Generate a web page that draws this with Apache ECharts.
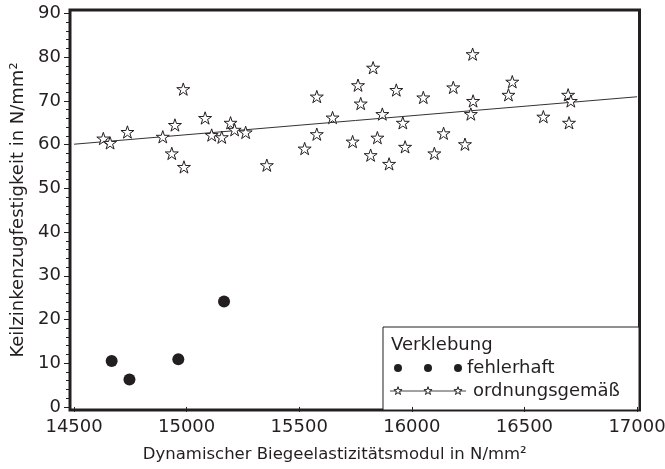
<!DOCTYPE html>
<html>
<head>
<meta charset="utf-8">
<script src="https://cdn.jsdelivr.net/npm/echarts@6/dist/echarts.min.js"></script>
<style>
  html, body { margin: 0; padding: 0; background: #fff; }
  #chart { width: 665px; height: 469px; }
</style>
</head>
<body>
<div id="chart"></div>
<script>
// tick labels
const xTicks = [14500, 15000, 15500, 16000, 16500, 17000]
const yTicks = [0, 10, 20, 30, 40, 50, 60, 70, 80, 90]
const yMinorTicks = [2, 4, 6, 8, 12, 14, 16, 18, 22, 24, 26, 28, 32, 34, 36, 38, 42, 44, 46, 48,
  52, 54, 56, 58, 62, 64, 66, 68, 72, 74, 76, 78, 82, 84, 86, 88]

// Verklebung fehlerhaft
const faultyX = [14667, 14746, 14963, 15166]
const faultyY = [10.5, 6.3, 10.9, 24.1]

// Verklebung ordnungsgemäß
const properX = [14630, 14660, 14737, 14894, 14948, 14934, 14988, 14985, 15082, 15111, 15156,
  15195, 15213, 15262, 15356, 15524, 15578, 15578, 15648, 15737, 15761, 15773, 15828, 15817,
  15847, 15869, 15899, 15931, 15960, 15970, 16051, 16100, 16141, 16184, 16270, 16236, 16272,
  16262, 16446, 16429, 16584, 16694, 16706, 16698]
const properY = [61.4, 60.4, 62.9, 61.8, 64.5, 58.0, 54.9, 72.7, 66.1, 62.2, 61.7,
  65.0, 63.4, 62.8, 55.3, 59.1, 62.4, 71.0, 66.2, 60.7, 73.6, 69.4, 77.6, 57.6,
  61.6, 67.0, 55.6, 72.5, 65.0, 59.5, 70.8, 58.0, 62.6, 73.1, 80.7, 60.1, 70.0,
  67.0, 74.4, 71.4, 66.4, 71.4, 70.0, 65.0]

// Regressionsgerade
const fitX = [14500, 17000]
const fitY = [60.1, 70.95]

const ink = '#231f20'
const font = 'DejaVu Sans'

// Eckpunkte eines fünfzackigen Sterns
function starPoints (cx, cy, r) {
  const pts = []
  for (let i = 0; i < 10; i++) {
    const rr = i % 2 === 0 ? r : r * 0.382
    const a = (-90 + i * 36) * Math.PI / 180
    pts.push([cx + rr * Math.cos(a), cy + rr * Math.sin(a)])
  }
  return pts
}
const star = 'path://' + starPoints(0, 0, 10)
  .map((p, i) => (i === 0 ? 'M' : 'L') + p[0].toFixed(3) + ' ' + p[1].toFixed(3))
  .join(' ') + ' Z'

const zip = (xs, ys) => xs.map((x, i) => [x, ys[i]])

const legendStar = cx => ({
  type: 'polygon',
  shape: { points: starPoints(cx, 391, 4.3) },
  style: { fill: '#fff', stroke: ink, lineWidth: 1 }
})

const chart = echarts.init(document.getElementById('chart'), null, { renderer: 'canvas' })

chart.setOption({
  animation: false,
  backgroundColor: '#fff',
  textStyle: { fontFamily: font, color: ink },
  grid: {
    left: 70,
    right: 25.5,
    top: 10,
    bottom: 59,
    show: true,
    borderColor: ink,
    borderWidth: 3,
    backgroundColor: 'transparent',
    outerBoundsMode: 'none'
  },
  xAxis: {
    type: 'value',
    min: 14482,
    max: 17011,
    name: 'Dynamischer Biegeelastizitätsmodul in N/mm²',
    nameLocation: 'middle',
    nameGap: 36,
    nameMoveOverlap: false,
    nameTextStyle: { fontFamily: font, fontSize: 16.5, color: ink, padding: [0, 40, 0, 0] },
    axisLine: { show: false },
    splitLine: { show: false },
    axisTick: { show: true, customValues: xTicks, length: 5, lineStyle: { color: ink, width: 1 } },
    axisLabel: {
      customValues: xTicks,
      margin: 8,
      fontFamily: font,
      fontSize: 18,
      color: ink,
      formatter: v => String(v)
    }
  },
  yAxis: [
    {
      type: 'value',
      min: -0.7,
      max: 90.8,
      name: 'Keilzinkenzugfestigkeit in N/mm²',
      nameLocation: 'middle',
      nameGap: 43,
      nameMoveOverlap: false,
      nameTextStyle: { fontFamily: font, fontSize: 18, color: ink },
      axisLine: { show: false },
      splitLine: { show: false },
      axisTick: { show: true, customValues: yTicks, length: 6, lineStyle: { color: ink, width: 1 } },
      axisLabel: { customValues: yTicks, margin: 9, fontFamily: font, fontSize: 18, color: ink }
    },
    {
      type: 'value',
      position: 'left',
      min: -0.7,
      max: 90.8,
      axisLine: { show: false },
      splitLine: { show: false },
      axisLabel: { show: false },
      axisTick: { show: true, customValues: yMinorTicks, length: 4, lineStyle: { color: ink, width: 1 } }
    }
  ],
  series: [
    {
      name: 'Regression',
      type: 'line',
      data: zip(fitX, fitY),
      showSymbol: false,
      symbol: 'none',
      lineStyle: { color: '#333', width: 1 },
      silent: true,
      z: 1
    },
    {
      name: 'fehlerhaft',
      type: 'scatter',
      data: zip(faultyX, faultyY),
      symbol: 'circle',
      symbolSize: 12,
      itemStyle: { color: ink, opacity: 1 },
      z: 3
    },
    {
      name: 'ordnungsgemäß',
      type: 'scatter',
      data: zip(properX, properY),
      symbol: star,
      symbolSize: 13,
      symbolKeepAspect: true,
      itemStyle: { color: '#fff', borderColor: ink, borderWidth: 1, opacity: 1 },
      z: 3
    }
  ],
  graphic: [
    {
      type: 'group',
      z: 100,
      children: [
        { type: 'rect', shape: { x: 383, y: 327, width: 256, height: 83 },
          style: { fill: '#fff', stroke: ink, lineWidth: 1 } },
        { type: 'text', x: 391, y: 345,
          style: { text: 'Verklebung', font: '18px "DejaVu Sans"', fill: ink, verticalAlign: 'middle' } },
        { type: 'circle', shape: { cx: 398, cy: 368, r: 4 }, style: { fill: ink } },
        { type: 'circle', shape: { cx: 428, cy: 368, r: 4 }, style: { fill: ink } },
        { type: 'circle', shape: { cx: 458, cy: 368, r: 4 }, style: { fill: ink } },
        { type: 'text', x: 467, y: 368,
          style: { text: 'fehlerhaft', font: '18px "DejaVu Sans"', fill: ink, verticalAlign: 'middle' } },
        { type: 'line', shape: { x1: 390, y1: 391, x2: 466, y2: 391 }, style: { stroke: '#444', lineWidth: 1 } },
        legendStar(398),
        legendStar(428),
        legendStar(458),
        { type: 'text', x: 473, y: 391,
          style: { text: 'ordnungsgemäß', font: '18px "DejaVu Sans"', fill: ink, verticalAlign: 'middle' } }
      ]
    }
  ]
})
</script>
</body>
</html>
